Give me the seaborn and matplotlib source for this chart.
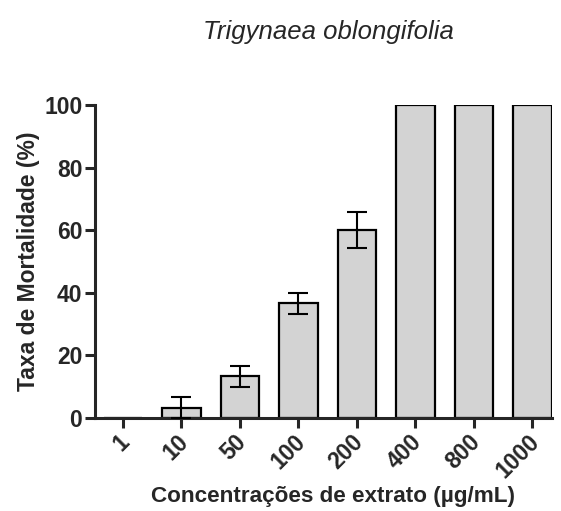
import numpy as np
import pandas as pd
import matplotlib
matplotlib.use("Agg")
import matplotlib.pyplot as plt
import matplotlib.transforms as mtransforms
import seaborn as sns

# dados
concentracoes = ["1", "10", "50", "100", "200", "400", "800", "1000"]
mortalidade = [0, 3.33, 13.33, 36.67, 60.0, 100, 100, 100]
erro = [0, 3.33, 3.33, 3.33, 5.77, 0, 0, 0]

sns.set_style("ticks")
plt.rcParams["font.family"] = ["Liberation Sans", "DejaVu Sans"]

df = pd.DataFrame({"conc": concentracoes, "mort": mortalidade, "err": erro})

fig = plt.figure(figsize=(5.61, 5.11), dpi=100)
ax = fig.add_axes([0.169, 0.182, 0.815, 0.6125])

sns.barplot(data=df, x="conc", y="mort", color="#d3d3d3", edgecolor="black",
            linewidth=1.6, width=0.66, saturation=1, errorbar=None, ax=ax)

# barras de erro so onde existe desvio
com_erro = df[df["err"] > 0]
pos = [concentracoes.index(c) for c in com_erro["conc"]]
ax.errorbar(pos, com_erro["mort"], yerr=com_erro["err"], fmt="none",
            ecolor="black", elinewidth=1.5, capsize=7, capthick=1.5, zorder=5)

ax.set_ylim(0, 100)
ax.set_xlim(-0.48, 7.335)
ax.set_yticks([0, 20, 40, 60, 80, 100])
sns.despine(ax=ax)
for s in ["left", "bottom"]:
    ax.spines[s].set_linewidth(2.2)
ax.tick_params(axis="both", length=7, width=2.2, pad=2, labelsize=16.5)
for t in ax.get_yticklabels():
    t.set_fontweight("bold")
# desloca um pouco os rotulos girados para a esquerda
desloc = mtransforms.ScaledTranslation(-0.05, 0, fig.dpi_scale_trans)
for t in ax.get_xticklabels():
    t.set_fontweight("bold")
    t.set_rotation(45)
    t.set_ha("right")
    t.set_rotation_mode("anchor")
    t.set_transform(t.get_transform() + desloc)

ax.set_xlabel("Concentrações de extrato (µg/mL)", fontsize=16.2,
              fontweight="bold")
ax.xaxis.set_label_coords(0.52, -0.216)
ax.set_ylabel("Taxa de Mortalidade (%)", fontsize=16.5, fontweight="bold",
              labelpad=3)

fig.text(0.585, 0.937, "Trigynaea oblongifolia", fontsize=18.5, style="italic",
         ha="center", va="center")

plt.savefig("out.png", dpi=100)
